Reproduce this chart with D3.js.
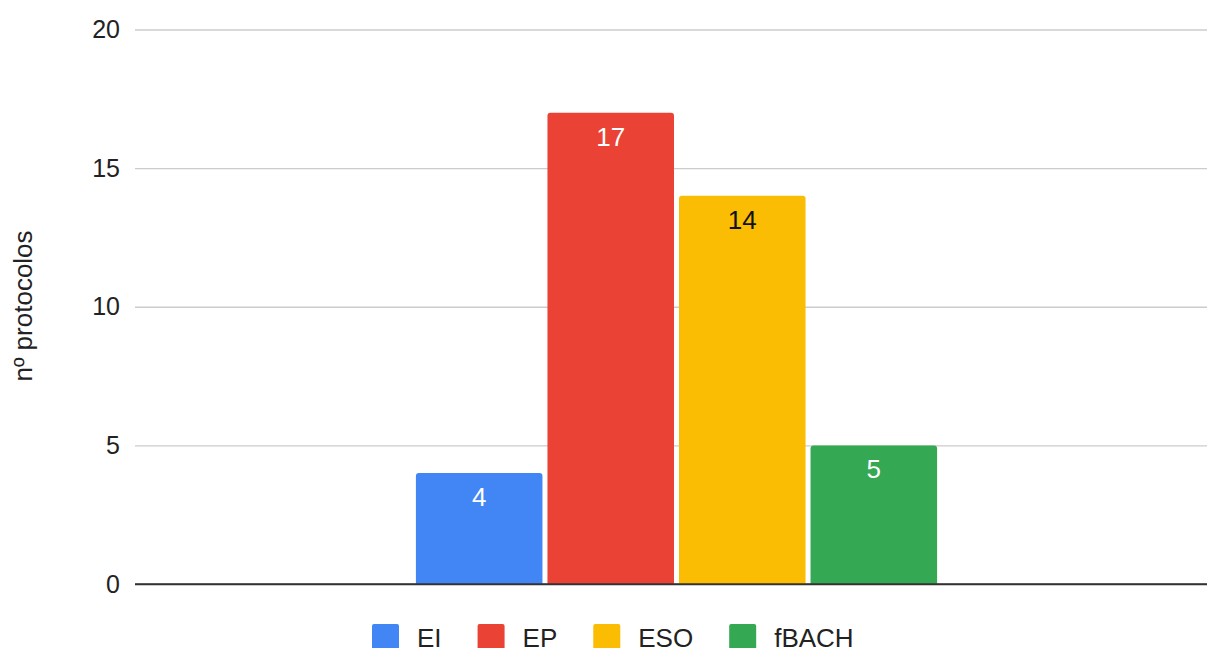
<!DOCTYPE html>
<html>
<head>
<meta charset="utf-8">
<script src="https://cdn.jsdelivr.net/npm/d3@7"></script>
<style>
  body { margin: 0; background: #fff; }
  svg { display: block; font-family: "Liberation Sans", Arial, sans-serif; }
</style>
</head>
<body>
<svg id="chart" width="1207" height="648"></svg>
<script>
// datos
const categorias = [''];
const series = ['EI', 'EP', 'ESO', 'fBACH'];
const valores = [4, 17, 14, 5];
const colores = ['#4285F4', '#EA4335', '#FBBC04', '#34A853'];
const coloresEtiqueta = ['#fff', '#fff', '#111', '#fff'];
const ticksY = [0, 5, 10, 15, 20];
const tituloY = 'nº protocolos';

const svg = d3.select('#chart');
const margin = { top: 29.5, left: 135, right: 1218, bottom: 584 };

const y = d3.scaleLinear().domain([0, 20]).range([margin.bottom, margin.top]);
const x0 = d3.scaleBand().domain(categorias).range([margin.left, margin.right])
  .paddingInner(0).paddingOuter(0.539);
const x1 = d3.scaleBand().domain(series).range([0, x0.bandwidth()])
  .paddingInner(0.038).paddingOuter(0);

// rejilla
const yAxis = d3.axisLeft(y).tickValues(ticksY).tickSize(0).tickPadding(15);
const gy = svg.append('g').attr('transform', `translate(${margin.left},0)`).call(yAxis);
gy.select('.domain').remove();
gy.selectAll('.tick text')
  .attr('font-size', 25)
  .attr('fill', '#222')
  .attr('font-family', '"Liberation Sans", Arial, sans-serif');
gy.selectAll('.tick line').remove();
gy.selectAll('.tick').append('line')
  .attr('x1', 0).attr('x2', margin.right - margin.left)
  .attr('stroke', (d) => d === 0 ? '#333' : '#cccccc')
  .attr('stroke-width', (d) => d === 0 ? 1.6 : 1.3);

// barras con esquinas superiores redondeadas
function barPath(x, yTop, w, h, r) {
  return `M${x},${yTop + h}V${yTop + r}Q${x},${yTop} ${x + r},${yTop}` +
    `H${x + w - r}Q${x + w},${yTop} ${x + w},${yTop + r}V${yTop + h}Z`;
}
const g = svg.append('g').attr('transform', `translate(${x0('')},0)`);
g.selectAll('path.bar')
  .data(series)
  .join('path')
  .attr('class', 'bar')
  .attr('fill', (d, i) => colores[i])
  .attr('d', (d, i) => barPath(x1(d), y(valores[i]), x1.bandwidth(), y(0) - y(valores[i]), 3));

// redibujar linea base por encima
svg.append('line')
  .attr('x1', margin.left).attr('x2', margin.right)
  .attr('y1', y(0)).attr('y2', y(0))
  .attr('stroke', '#333').attr('stroke-width', 1.6);

g.selectAll('text.bar-values')
  .data(series)
  .join('text')
  .attr('class', 'bar-values')
  .attr('x', (d) => x1(d) + x1.bandwidth() / 2)
  .attr('y', (d, i) => y(valores[i]) + 33)
  .attr('text-anchor', 'middle')
  .attr('font-size', 26)
  .attr('fill', (d, i) => coloresEtiqueta[i])
  .text((d, i) => valores[i]);

// titulo eje Y
svg.append('text')
  .attr('transform', 'translate(31.5,306) rotate(-90)')
  .attr('text-anchor', 'middle')
  .attr('font-size', 26)
  .attr('fill', '#222')
  .text(tituloY);

// leyenda
const leyenda = svg.append('g');
let lx = 372;
series.forEach((s, i) => {
  const item = leyenda.append('g').attr('transform', `translate(${lx},624)`);
  item.append('rect').attr('width', 27).attr('height', 27).attr('rx', 2).attr('fill', colores[i]);
  const t = item.append('text')
    .attr('x', 45).attr('y', 23)
    .attr('font-size', 26).attr('fill', '#222')
    .text(s);
  lx += 45 + t.node().getComputedTextLength() + 36;
});
</script>
</body>
</html>
